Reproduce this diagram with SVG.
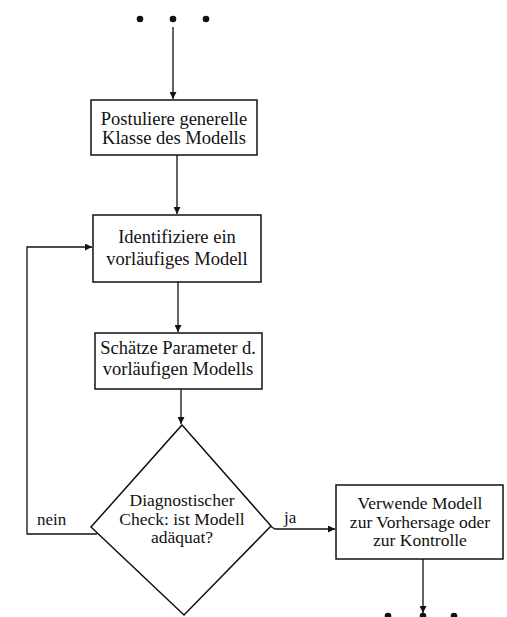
<svg xmlns="http://www.w3.org/2000/svg" width="507" height="617" viewBox="0 0 507 617">
<defs>
<marker id="ah" viewBox="0 0 8 8" refX="8" refY="4" markerWidth="7" markerHeight="7" markerUnits="userSpaceOnUse" orient="auto">
<path d="M0,0 L8,4 L0,8 z" fill="#111"/>
</marker>
<style>
.box{fill:#fff;stroke:#111;stroke-width:1.5}
.t{font-family:"Liberation Serif","Times New Roman",serif;font-size:18.5px;fill:#111;text-anchor:middle}
.t3{font-size:17.5px}
.l{font-family:"Liberation Serif","Times New Roman",serif;font-size:17px;fill:#111}
.c{fill:none;stroke:#111;stroke-width:1.3}
.d{fill:#111}
</style>
</defs>
<g id="dots-top">
<circle class="d" cx="140" cy="19" r="3.3"/>
<circle class="d" cx="173" cy="19" r="3.3"/>
<circle class="d" cx="206" cy="19" r="3.3"/>
</g>
<g id="connectors">
<line class="c" x1="173" y1="27" x2="173" y2="99" marker-end="url(#ah)"/>
<line class="c" x1="177" y1="155" x2="177" y2="214" marker-end="url(#ah)"/>
<line class="c" x1="178" y1="282" x2="178" y2="332" marker-end="url(#ah)"/>
<line class="c" x1="181" y1="389" x2="181" y2="424" marker-end="url(#ah)"/>
<polyline class="c" points="97,534 27,534 27,247 92,247" marker-end="url(#ah)"/>
<polyline class="c" points="270,526 275,529 335,529" marker-end="url(#ah)"/>
<line class="c" x1="423" y1="559" x2="423" y2="613" marker-end="url(#ah)"/>
</g>
<g id="box1">
<rect class="box" x="91" y="100" width="166" height="55"/>
<text class="t" x="174" y="125">Postuliere generelle</text>
<text class="t" x="174" y="144">Klasse des Modells</text>
</g>
<g id="box2">
<rect class="box" x="93" y="215" width="168" height="67"/>
<text class="t" x="177" y="243">Identifiziere ein</text>
<text class="t" x="177" y="265">vorläufiges Modell</text>
</g>
<g id="box3">
<rect class="box" x="95" y="333" width="167" height="56"/>
<text class="t" x="178" y="354">Schätze Parameter d.</text>
<text class="t" x="178" y="375">vorläufigen Modells</text>
</g>
<g id="decision">
<polygon class="box" points="182,425 271,526 184,615 91,527"/>
<text class="t t3" x="182" y="506">Diagnostischer</text>
<text class="t t3" x="182" y="524.5">Check: ist Modell</text>
<text class="t t3" x="182" y="543">adäquat?</text>
</g>
<g id="label-nein"><text class="l" x="37" y="525">nein</text></g>
<g id="label-ja"><text class="l" x="284" y="523">ja</text></g>
<g id="box4">
<rect class="box" x="336" y="485" width="167" height="74"/>
<text class="t t3" x="420" y="509">Verwende Modell</text>
<text class="t t3" x="420" y="527.5">zur Vorhersage oder</text>
<text class="t t3" x="420" y="546">zur Kontrolle</text>
</g>
<g id="dots-bottom">
<circle class="d" cx="388" cy="616" r="3.3"/>
<circle class="d" cx="423" cy="616" r="3.3"/>
<circle class="d" cx="454" cy="616" r="3.3"/>
</g>
</svg>
